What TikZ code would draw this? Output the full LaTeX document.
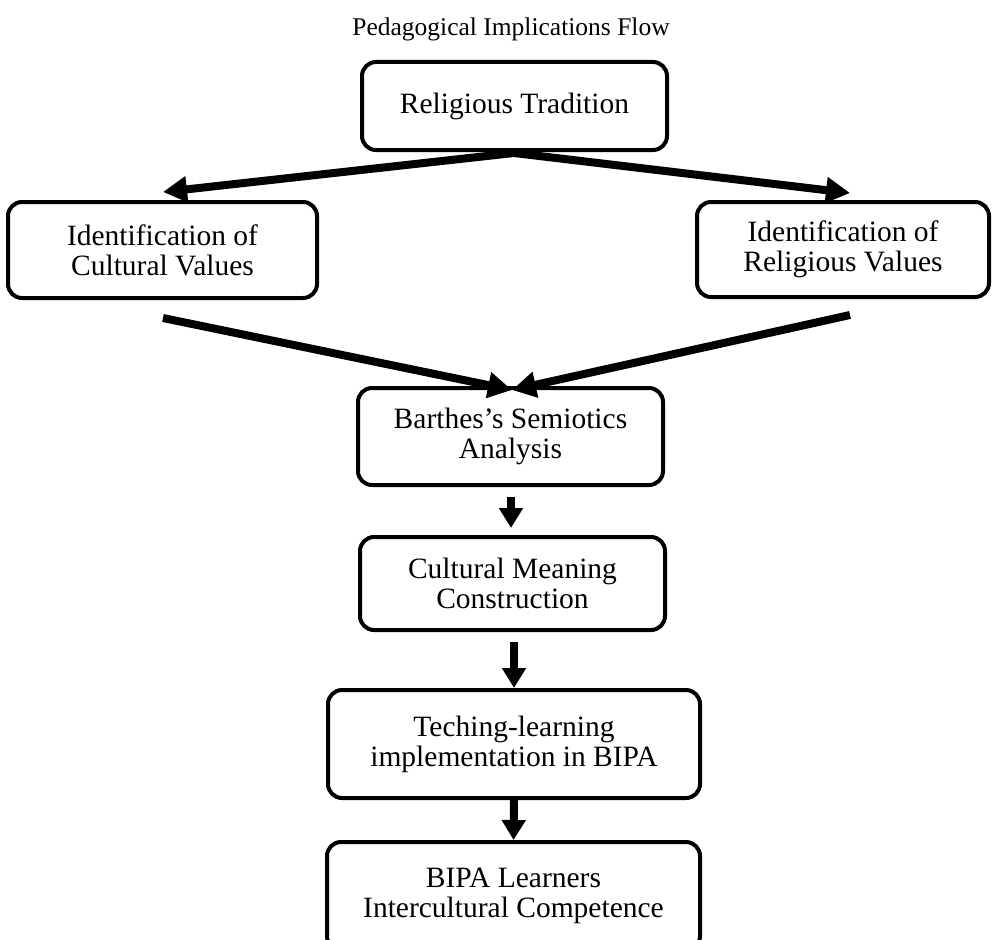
\documentclass[tikz,border=0pt]{standalone}
\usepackage{fontspec}
\setmainfont{Liberation Serif}
\usetikzlibrary{arrows.meta}
\begin{document}
\begin{tikzpicture}[x=1pt,y=-1pt,
  box/.style={draw=black, line width=4pt, rounded corners=14pt, fill=white,
    align=center, inner sep=0pt, font=\fontsize{29.5}{30}\selectfont},
  bigarrow/.style={line width=8pt, -{Triangle[length=24pt,width=25pt]}},
  smallarrow/.style={line width=8pt, -{Triangle[length=20pt,width=23pt]}}]
\useasboundingbox (0,0) rectangle (992,939);
\clip (0,0) rectangle (992,939);
\node (title) at (511,29) {\fontsize{25.5}{28}\selectfont Pedagogical Implications Flow};
\node[box, minimum width=305pt, minimum height=88pt] (rt) at (514.5,106) {Religious Tradition};
\node[box, minimum width=309pt, minimum height=96pt] (cv) at (162.5,250) {Identification of\\Cultural Values};
\node[box, minimum width=292pt, minimum height=95pt] (rv) at (843,249.5) {Identification of\\Religious Values};
\node[box, minimum width=305pt, minimum height=97pt] (ba) at (510.5,436.5) {Barthes’s Semiotics\\Analysis};
\node[box, minimum width=305pt, minimum height=93pt] (cm) at (512.5,583.5) {Cultural Meaning\\Construction};
\node[box, minimum width=372pt, minimum height=108pt] (tl) at (514,744) {Teching-learning\\implementation in BIPA};
\node[box, minimum width=373pt, minimum height=108pt] (bl) at (513.5,896) {BIPA Learners\\Intercultural Competence};
\coordinate (rtfoot) at (514,153);
\coordinate (cvtip) at (163,192);
\coordinate (rvtip) at (850,193);
\coordinate (cvfoot) at (163,318);
\coordinate (rvfoot) at (850,315);
\coordinate (batip) at (512,390);
\coordinate (bafoot) at (511,497);
\coordinate (cmtip) at (511,528);
\coordinate (cmfoot) at (514,642);
\draw[bigarrow] (rtfoot) -- (cvtip);
\draw[bigarrow] (rtfoot) -- (rvtip);
\draw[bigarrow] (cvfoot) -- (batip);
\draw[bigarrow] (rvfoot) -- (batip);
\draw[smallarrow] (bafoot) -- (cmtip);
\draw[smallarrow] (cmfoot) -- (tl.north);
\draw[smallarrow] (tl.south) -- (bl.north);
\end{tikzpicture}
\end{document}
